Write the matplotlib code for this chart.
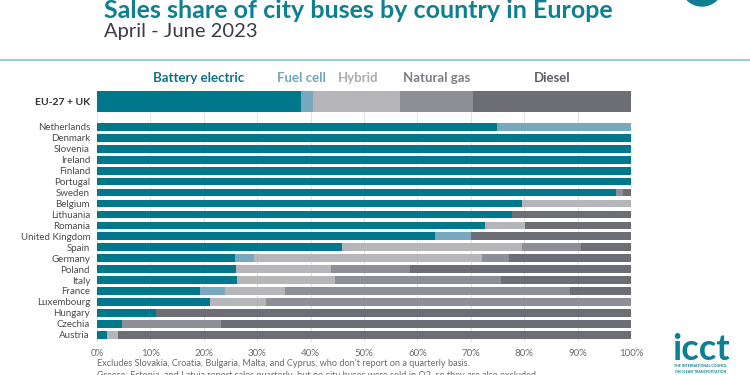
import numpy as np
import matplotlib
matplotlib.use("Agg")
import matplotlib.pyplot as plt
from matplotlib.patches import Ellipse

plt.rcParams['font.family'] = ['Lato', 'DejaVu Sans']

# data (shares in %)
fuels = ['Battery electric', 'Fuel cell', 'Hybrid', 'Natural gas', 'Diesel']
colors = ['#00788C', '#78A8BD', '#B6B6BA', '#8E8E96', '#6D6E75']
label_colors = ['#0B7485', '#6FA6BA', '#ABABB0', '#7E7F86', '#5E5F66']

eu_label = 'EU-27 + UK'
eu_share = [38.2, 2.2, 16.4, 13.6, 29.6]

countries = ['Netherlands', 'Denmark', 'Slovenia', 'Ireland', 'Finland', 'Portugal',
             'Sweden', 'Belgium', 'Lithuania', 'Romania', 'United Kingdom', 'Spain',
             'Germany', 'Poland', 'Italy', 'France', 'Luxembourg', 'Hungary',
             'Czechia', 'Austria']
battery = [74.9, 100, 100, 100, 100, 100, 97.2, 79.5, 77.8, 72.6, 63.3, 45.8,
           25.8, 26.1, 26.2, 19.3, 21.1, 11.0, 4.7, 1.9]
fuel_cell = [25.1, 0, 0, 0, 0, 0, 0, 0, 0, 0, 6.7, 0,
             3.6, 0, 0, 4.6, 0, 0, 0, 0]
hybrid = [0, 0, 0, 0, 0, 0, 0, 20.5, 0, 7.5, 0, 33.7,
          42.7, 17.8, 18.3, 11.3, 10.5, 0, 0, 2.0]
natural_gas = [0, 0, 0, 0, 0, 0, 1.3, 0, 0, 0, 0, 11.1,
               5.1, 14.7, 31.2, 53.3, 68.4, 0, 18.6, 0]
diesel = [0, 0, 0, 0, 0, 0, 1.5, 0, 22.2, 19.9, 30.0, 9.4,
          22.8, 41.4, 24.3, 11.5, 0, 89.0, 76.7, 96.1]

series = [battery, fuel_cell, hybrid, natural_gas, diesel]
ticks = np.arange(0, 101, 10)

fig = plt.figure(figsize=(7.5, 3.75), dpi=100)
fig.patch.set_facecolor('white')

# header
fig.text(104 / 750, 1 - 10 / 375, 'Sales share of city buses by country in Europe',
         color='#0E8091', fontsize=18, fontweight='bold', va='center', ha='left')
fig.text(104 / 750, 1 - 31 / 375, 'April - June 2023', color='#3C3C44',
         fontsize=14.5, va='center', ha='left')
fig.add_artist(plt.Line2D([0, 1], [1 - 60 / 375, 1 - 60 / 375], color='#9CCDD4',
                          lw=1.4, transform=fig.transFigure))
fig.add_artist(Ellipse((702 / 750, 1 + 15 / 375), 42 / 750, 42 / 375,
                       color='#0E8091', transform=fig.transFigure, clip_on=False))

# main axes
ax = fig.add_axes([97 / 750, 33 / 375, 534 / 750, 251 / 375])
y = np.arange(len(countries))
eu_y = -2.33
eu_h = 1.92
bar_h = 0.70

left = np.zeros(len(countries))
for vals, c in zip(series, colors):
    ax.barh(y, vals, left=left, height=bar_h, color=c, zorder=2)
    left += np.array(vals)

eu_left = np.concatenate([[0], np.cumsum(eu_share)[:-1]])
for l, v, c in zip(eu_left, eu_share, colors):
    ax.barh(eu_y, v, left=l, height=eu_h, color=c, zorder=2)

# legend labels above the EU bar
mids = eu_left + np.array(eu_share) / 2
offsets = [0, -1.0, 0.3, 0, 0]
for i, name in enumerate(fuels):
    ax.text(mids[i] + offsets[i], eu_y - eu_h / 2 - 1.15, name,
            color=label_colors[i], fontsize=9.5, fontweight='bold',
            ha='center', va='center', clip_on=False)

ax.set_xlim(0, 100)
ax.set_ylim(19.67, -3.29)
ax.set_xticks(ticks)
ax.set_xticklabels([f'{t}%' for t in ticks], color='#6A6A72', fontsize=7)
ax.set_yticks(list(y) + [eu_y])
ax.set_yticklabels(countries + [eu_label], fontsize=7, color='#4A4A52')
for lbl in ax.get_yticklabels():
    if lbl.get_text() == eu_label:
        lbl.set_fontweight('bold')
        lbl.set_color('#2E2E36')
        lbl.set_fontsize(7.5)
ax.tick_params(length=0, pad=5)
ax.grid(axis='x', color='#E3E3E6', lw=0.8, zorder=0)
for s in ax.spines.values():
    s.set_visible(False)

# footnotes
fig.text(97 / 750, 1 - 363 / 375,
         "Excludes Slovakia, Croatia, Bulgaria, Malta, and Cyprus, who don't report on a quarterly basis.",
         fontsize=6.6, color='#6A6A72', va='center', ha='left')
fig.text(97 / 750, 1 - 376 / 375,
         "Greece, Estonia, and Latvia report sales quarterly, but no city buses were sold in Q2, so they are also excluded.",
         fontsize=6.6, color='#6A6A72', va='center', ha='left')

# logo
fig.text(701 / 750, 1 - 349 / 375, 'icct', fontsize=26, fontweight='bold',
         color='#0E8091', ha='center', va='center')
fig.text(701 / 750, 1 - 366 / 375, 'THE INTERNATIONAL COUNCIL', fontsize=2.6,
         color='#0E8091', ha='center', va='center', fontweight='bold')
fig.text(701 / 750, 1 - 372 / 375, 'ON CLEAN TRANSPORTATION', fontsize=2.6,
         color='#0E8091', ha='center', va='center', fontweight='bold')

fig.savefig('out.png', dpi=100, facecolor='white')
